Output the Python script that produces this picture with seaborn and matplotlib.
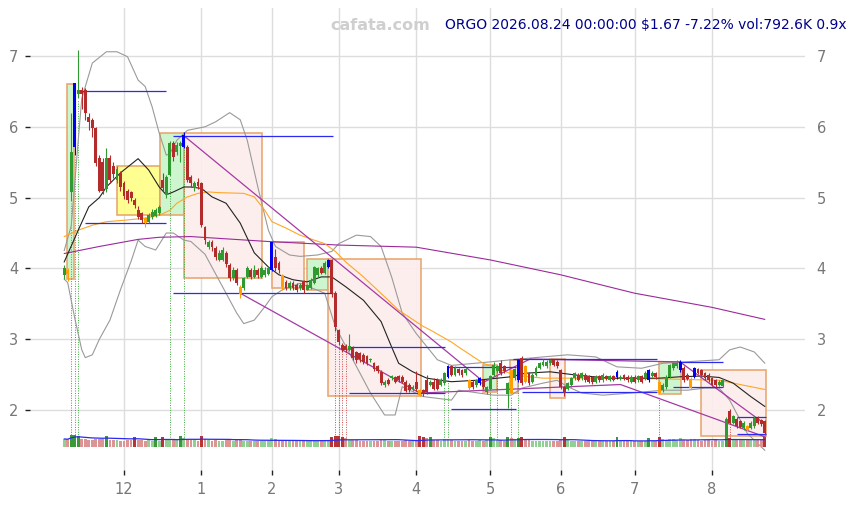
import numpy as np
import pandas as pd
import matplotlib
matplotlib.use("Agg")
import matplotlib.pyplot as plt
from matplotlib.patches import Rectangle
import seaborn as sns

# daily candles, ORGO, 2025-11-05 .. 2026-08-24 (200 sessions)
opens = [3.90, 3.98, 5.08, 5.71, 6.46, 6.52, 6.52, 6.14, 6.10, 5.98,
         5.56, 5.50, 5.12, 5.56, 5.45, 5.25, 5.35, 5.20, 5.10, 5.08,
         4.97, 4.83, 4.78, 4.71, 4.66, 4.72, 4.74, 4.78, 5.25, 5.04,
         5.32, 5.77, 5.64, 5.73, 5.71, 5.71, 5.29, 5.14, 5.22, 5.20,
         4.58, 4.30, 4.37, 4.29, 4.12, 4.12, 4.22, 4.05, 3.86, 3.98,
         3.74, 3.72, 3.88, 3.98, 3.88, 3.98, 3.88, 3.90, 3.92, 3.98,
         4.16, 4.08, 3.90, 3.81, 3.72, 3.80, 3.77, 3.72, 3.82, 3.70,
         3.72, 3.80, 3.90, 4.00, 3.94, 4.02, 4.12, 3.65, 3.13, 2.92,
         2.90, 2.85, 2.88, 2.82, 2.80, 2.78, 2.76, 2.70, 2.66, 2.62,
         2.54, 2.35, 2.43, 2.45, 2.46, 2.48, 2.47, 2.40, 2.36, 2.29,
         2.40, 2.28, 2.28, 2.42, 2.36, 2.40, 2.42, 2.36, 2.38, 2.47,
         2.62, 2.50, 2.58, 2.56, 2.52, 2.42, 2.40, 2.35, 2.38, 2.42,
         2.25, 2.30, 2.50, 2.55, 2.66, 2.62, 2.22, 2.56, 2.45, 2.42,
         2.73, 2.62, 2.52, 2.40, 2.50, 2.60, 2.64, 2.62, 2.66, 2.70,
         2.68, 2.56, 2.32, 2.30, 2.35, 2.45, 2.50, 2.45, 2.50, 2.48,
         2.46, 2.40, 2.48, 2.42, 2.48, 2.43, 2.48, 2.46, 2.44, 2.49,
         2.47, 2.40, 2.47, 2.42, 2.48, 2.45, 2.42, 2.48, 2.52, 2.40,
         2.28, 2.32, 2.47, 2.59, 2.62, 2.56, 2.59, 2.50, 2.44, 2.47,
         2.58, 2.56, 2.52, 2.50, 2.45, 2.42, 2.36, 2.34, 1.65, 1.99,
         1.82, 1.88, 1.84, 1.74, 1.77, 1.75, 1.77, 1.89, 1.86, 1.84]
closes = [4.00, 3.92, 5.64, 6.62, 6.52, 6.46, 6.20, 6.07, 5.98, 5.49,
          5.10, 5.10, 5.56, 5.25, 5.33, 5.40, 5.15, 5.02, 4.97, 5.00,
          4.90, 4.73, 4.68, 4.64, 4.75, 4.80, 4.82, 4.87, 5.14, 5.29,
          5.77, 5.57, 5.75, 5.77, 5.89, 5.25, 5.20, 5.20, 5.16, 4.61,
          4.40, 4.37, 4.30, 4.16, 4.22, 4.26, 4.06, 3.86, 3.98, 3.80,
          3.64, 3.86, 4.00, 3.88, 3.98, 3.90, 4.00, 3.98, 4.00, 4.37,
          4.00, 3.98, 3.74, 3.72, 3.80, 3.72, 3.70, 3.77, 3.70, 3.76,
          3.84, 4.02, 4.00, 3.94, 4.08, 4.12, 3.65, 3.17, 2.96, 2.85,
          2.85, 2.90, 2.73, 2.70, 2.72, 2.68, 2.66, 2.72, 2.58, 2.55,
          2.38, 2.40, 2.37, 2.48, 2.40, 2.42, 2.40, 2.27, 2.28, 2.33,
          2.29, 2.21, 2.22, 2.25, 2.40, 2.30, 2.30, 2.43, 2.52, 2.62,
          2.50, 2.60, 2.53, 2.50, 2.58, 2.31, 2.33, 2.42, 2.45, 2.33,
          2.32, 2.48, 2.63, 2.62, 2.53, 2.55, 2.38, 2.24, 2.58, 2.70,
          2.38, 2.40, 2.38, 2.50, 2.60, 2.66, 2.68, 2.68, 2.70, 2.64,
          2.62, 2.32, 2.24, 2.38, 2.45, 2.52, 2.43, 2.52, 2.43, 2.40,
          2.40, 2.47, 2.42, 2.50, 2.44, 2.48, 2.43, 2.54, 2.47, 2.44,
          2.42, 2.47, 2.40, 2.48, 2.40, 2.53, 2.56, 2.53, 2.46, 2.24,
          2.36, 2.47, 2.63, 2.66, 2.66, 2.68, 2.42, 2.44, 2.31, 2.59,
          2.53, 2.50, 2.45, 2.42, 2.36, 2.35, 2.40, 2.42, 1.87, 1.82,
          1.91, 1.77, 1.76, 1.82, 1.72, 1.82, 1.89, 1.82, 1.80, 1.67]
highs = [4.05, 4.00, 6.20, 6.62, 7.08, 6.56, 6.55, 6.20, 6.12, 6.00,
         5.60, 5.56, 5.70, 5.60, 5.50, 5.45, 5.38, 5.24, 5.12, 5.10,
         5.00, 4.88, 4.80, 4.73, 4.78, 4.84, 4.86, 4.90, 5.35, 5.32,
         5.80, 5.80, 5.78, 5.80, 5.92, 5.74, 5.32, 5.24, 5.28, 5.22,
         4.60, 4.40, 4.40, 4.32, 4.26, 4.30, 4.24, 4.07, 4.02, 4.00,
         3.76, 3.88, 4.04, 4.00, 4.05, 4.00, 4.04, 4.02, 4.03, 4.38,
         4.28, 4.10, 3.92, 3.84, 3.82, 3.82, 3.80, 3.80, 3.84, 3.78,
         3.86, 4.04, 4.02, 4.03, 4.10, 4.14, 4.14, 3.68, 3.15, 2.95,
         2.93, 3.08, 2.90, 2.84, 2.82, 2.80, 2.78, 2.74, 2.68, 2.64,
         2.56, 2.42, 2.45, 2.50, 2.48, 2.50, 2.49, 2.42, 2.38, 2.35,
         2.55, 2.30, 2.30, 2.50, 2.42, 2.45, 2.45, 2.45, 2.54, 2.64,
         2.64, 2.62, 2.60, 2.58, 2.60, 2.44, 2.42, 2.44, 2.47, 2.44,
         2.34, 2.50, 2.68, 2.64, 2.70, 2.64, 2.40, 2.58, 2.60, 2.72,
         2.77, 2.64, 2.54, 2.52, 2.62, 2.68, 2.72, 2.70, 2.72, 2.72,
         2.70, 2.58, 2.34, 2.40, 2.47, 2.54, 2.52, 2.54, 2.52, 2.50,
         2.48, 2.49, 2.50, 2.52, 2.50, 2.50, 2.50, 2.56, 2.49, 2.51,
         2.49, 2.49, 2.49, 2.50, 2.50, 2.55, 2.58, 2.55, 2.54, 2.42,
         2.38, 2.49, 2.65, 2.68, 2.70, 2.70, 2.62, 2.52, 2.46, 2.61,
         2.60, 2.58, 2.54, 2.52, 2.47, 2.44, 2.42, 2.44, 1.90, 2.02,
         1.93, 1.90, 1.86, 1.84, 1.79, 1.84, 1.92, 1.91, 1.88, 1.86]
lows = [3.85, 3.82, 4.95, 5.60, 6.40, 6.25, 6.10, 5.95, 5.85, 5.45,
        5.08, 5.05, 5.08, 5.20, 5.28, 5.20, 5.10, 4.98, 4.92, 4.95,
        4.85, 4.70, 4.64, 4.58, 4.64, 4.70, 4.72, 4.76, 5.10, 5.00,
        5.30, 5.52, 5.60, 5.50, 5.70, 5.22, 5.15, 5.10, 5.12, 4.58,
        4.35, 4.28, 4.25, 4.12, 4.10, 4.10, 4.02, 3.82, 3.84, 3.76,
        3.58, 3.70, 3.86, 3.85, 3.86, 3.87, 3.86, 3.88, 3.90, 3.96,
        3.96, 3.94, 3.70, 3.70, 3.70, 3.70, 3.66, 3.70, 3.65, 3.69,
        3.71, 3.78, 3.88, 3.92, 3.92, 4.00, 3.60, 3.12, 2.92, 2.82,
        2.82, 2.84, 2.70, 2.67, 2.68, 2.65, 2.63, 2.68, 2.55, 2.52,
        2.35, 2.33, 2.35, 2.43, 2.38, 2.40, 2.38, 2.25, 2.26, 2.27,
        2.27, 2.20, 2.20, 2.23, 2.34, 2.28, 2.28, 2.34, 2.36, 2.45,
        2.48, 2.48, 2.50, 2.47, 2.50, 2.28, 2.30, 2.33, 2.36, 2.30,
        2.23, 2.28, 2.48, 2.53, 2.50, 2.52, 2.03, 2.22, 2.43, 2.40,
        2.36, 2.38, 2.36, 2.38, 2.48, 2.58, 2.62, 2.60, 2.64, 2.62,
        2.60, 2.30, 2.20, 2.28, 2.33, 2.43, 2.41, 2.43, 2.40, 2.38,
        2.37, 2.38, 2.40, 2.40, 2.42, 2.41, 2.41, 2.44, 2.42, 2.42,
        2.40, 2.38, 2.38, 2.40, 2.38, 2.43, 2.40, 2.46, 2.44, 2.22,
        2.26, 2.30, 2.45, 2.57, 2.60, 2.54, 2.40, 2.42, 2.29, 2.45,
        2.51, 2.48, 2.43, 2.40, 2.34, 2.33, 2.34, 2.32, 1.50, 1.80,
        1.80, 1.75, 1.74, 1.72, 1.70, 1.73, 1.75, 1.80, 1.78, 1.65]
# candle colour class: g up, r down, b breakout, o flagged
kinds = list("gogbgrrrrr" "rrgrrgrrrr" "rrroggggrg" "grggbrrgrr"
             "rgrrggrrgr" "oggrgrgggb" "rrorgrrgrg" "gggrgbrrrr"
             "rgrrrrrgrr" "rgrgrrrrrg" "rorrgrrggb" "rgrrgorgbr"
             "ggggrrgogb" "rorggggggr" "rrrgggrgrr" "rgrgrgrbgr"
             "rgrgrgbgro" "gggggbrrob" "rrrrrrgggr" "grrgoggrrr")
volumes_k = [620, 580, 900, 950, 880, 640, 600, 560, 540, 620,
             600, 580, 820, 560, 520, 500, 490, 480, 540, 520,
             800, 560, 520, 490, 500, 480, 780, 460, 800, 520,
             640, 580, 540, 820, 660, 620, 520, 500, 480, 840,
             640, 500, 490, 520, 480, 460, 520, 560, 490, 540,
             600, 490, 480, 460, 450, 440, 460, 450, 440, 660,
             600, 520, 560, 490, 460, 450, 480, 440, 490, 460,
             450, 490, 480, 460, 480, 520, 780, 860, 820, 760,
             660, 560, 520, 500, 490, 480, 460, 450, 490, 480,
             600, 500, 480, 460, 450, 480, 460, 520, 490, 460,
             500, 840, 800, 660, 780, 520, 500, 480, 580, 640,
             520, 490, 480, 460, 450, 520, 490, 480, 500, 490,
             500, 780, 660, 520, 500, 490, 800, 660, 640, 720,
             780, 580, 520, 490, 480, 490, 480, 460, 450, 440,
             460, 560, 760, 500, 480, 460, 480, 450, 460, 440,
             450, 440, 440, 460, 450, 440, 460, 740, 480, 460,
             440, 450, 460, 450, 440, 460, 720, 480, 460, 780,
             600, 520, 640, 580, 520, 660, 560, 520, 600, 640,
             520, 490, 500, 520, 490, 500, 480, 490, 900, 720,
             640, 580, 560, 520, 500, 520, 560, 540, 560, 793]

holidays = ["2025-11-27", "2025-12-25", "2026-01-01", "2026-01-19", "2026-02-16",
            "2026-04-03", "2026-05-25", "2026-06-19", "2026-07-03"]

# overlay lines (session index, price)
sma20_idx = [0, 4, 7, 10, 12, 16, 21, 24, 27, 29, 31, 34, 36, 39, 42, 46, 50, 54, 58, 61,
             65, 69, 73, 76, 80, 85, 90, 93, 95, 99, 103, 107, 110, 117, 127, 131, 138, 146,
             155, 164, 169, 175, 181, 186, 190, 195, 199]
sma20_val = [4.09, 4.54, 4.87, 5.00, 5.15, 5.35, 5.55, 5.39, 5.15, 5.04, 5.08, 5.15, 5.15, 5.13,
             5.01, 4.92, 4.64, 4.22, 4.02, 3.91, 3.84, 3.81, 3.88, 3.88, 3.74, 3.55, 3.25, 2.89,
             2.66, 2.54, 2.45, 2.42, 2.40, 2.42, 2.47, 2.52, 2.54, 2.49, 2.45, 2.45, 2.45, 2.47,
             2.48, 2.46, 2.38, 2.19, 2.05]
sma50_idx = [0, 4, 8, 12, 17, 23, 27, 30, 32, 35, 38, 41, 44, 51, 54, 57, 59, 63, 67, 71,
             74, 77, 80, 85, 91, 95, 102, 104, 110, 112, 119, 123, 128, 136, 150, 170, 186, 199]
sma50_val = [4.45, 4.54, 4.61, 4.66, 4.68, 4.71, 4.75, 4.82, 4.92, 5.01, 5.06, 5.08, 5.07, 5.06,
             5.01, 4.82, 4.66, 4.57, 4.47, 4.40, 4.35, 4.24, 4.09, 3.88, 3.60, 3.41, 3.18, 3.13,
             2.96, 2.89, 2.66, 2.59, 2.49, 2.45, 2.45, 2.44, 2.42, 2.29]
sma200_idx = [0, 10, 21, 27, 36, 39, 58, 78, 100, 121, 141, 162, 184, 199]
sma200_val = [4.21, 4.31, 4.41, 4.44, 4.45, 4.44, 4.38, 4.33, 4.30, 4.12, 3.91, 3.65, 3.45, 3.28]
bb_up_idx = [0, 2, 3, 4, 5, 8, 12, 15, 18, 21, 23, 25, 27, 29, 30, 32, 35, 40, 43, 47,
             50, 52, 55, 58, 60, 64, 67, 72, 76, 78, 83, 87, 90, 93, 96, 100, 106, 110, 121, 127,
             136, 143, 151, 157, 164, 170, 186, 189, 192, 196, 199]
bb_up_val = [4.25, 4.60, 5.20, 5.81, 6.40, 6.90, 7.06, 7.06, 6.99, 6.66, 6.57, 6.28, 5.91, 5.60,
             5.62, 5.81, 5.95, 6.00, 6.07, 6.20, 6.10, 5.81, 5.15, 4.54, 4.31, 4.19, 4.17, 4.19,
             4.24, 4.35, 4.47, 4.45, 4.31, 3.88, 3.37, 3.08, 2.71, 2.63, 2.68, 2.71, 2.75, 2.78,
             2.75, 2.61, 2.59, 2.66, 2.71, 2.85, 2.89, 2.82, 2.66]
bb_lo_idx = [0, 1, 3, 5, 6, 8, 10, 13, 16, 19, 21, 23, 26, 29, 31, 34, 36, 40, 45, 49,
             51, 54, 57, 59, 62, 67, 74, 77, 82, 87, 91, 94, 96, 102, 110, 112, 122, 127, 130, 136,
             140, 143, 147, 153, 161, 170, 177, 182, 186, 189, 194, 199]
bb_lo_val = [3.85, 3.80, 3.30, 2.85, 2.74, 2.78, 3.00, 3.27, 3.70, 4.10, 4.40, 4.31, 4.26, 4.50,
             4.50, 4.40, 4.38, 4.20, 3.74, 3.37, 3.22, 3.27, 3.46, 3.60, 3.70, 3.79, 3.65, 3.18,
             2.71, 2.24, 1.93, 1.93, 2.33, 2.19, 2.14, 2.28, 2.21, 2.21, 2.31, 2.38, 2.42, 2.33,
             2.24, 2.21, 2.24, 2.28, 2.28, 2.31, 2.31, 2.14, 1.67, 1.43]

# consolidation boxes
box_start = [0.8, 15.1, 27.2, 34.1, 59.1, 69.0, 75.0, 118.9, 126.6, 138.0, 169.0, 181.0]
box_end = [2.8, 27.2, 34.1, 56.1, 68.0, 75.0, 101.3, 123.0, 129.0, 142.3, 175.1, 199.3]
box_low = [3.85, 4.75, 4.75, 3.86, 3.72, 3.70, 2.20, 2.26, 2.24, 2.17, 2.22, 1.64]
box_high = [6.60, 5.45, 5.91, 5.91, 4.38, 4.13, 4.13, 2.64, 2.70, 2.72, 2.68, 2.57]
box_kind = ["up", "flat", "up", "down", "down", "up", "down", "up", "down", "down", "up", "down"]

# support / resistance levels
lvl_start = [4.0, 5.9, 31.0, 31.0, 81.0, 81.0, 109.9, 109.0, 127.5, 130.0, 175.0, 173.0, 191.0, 191.0]
lvl_end = [29.0, 29.0, 76.3, 76.3, 108.2, 108.2, 128.3, 128.3, 168.4, 168.4, 187.2, 187.2, 199.3, 199.3]
lvl_price = [6.50, 4.64, 5.87, 3.65, 2.89, 2.24, 2.02, 2.61, 2.72, 2.25, 2.68, 2.33, 1.90, 1.66]

# trend lines
trend_x0 = [34.1, 50.0, 118.6, 132.3, 174.9, 101.0, 158.0]
trend_y0 = [5.87, 3.65, 2.38, 2.72, 2.68, 2.24, 2.36]
trend_x1 = [118.6, 101.0, 132.3, 174.9, 199.1, 158.0, 199.1]
trend_y1 = [2.42, 2.24, 2.72, 2.68, 1.80, 2.36, 1.62]

# signal days (dotted markers)
sig_up = [2, 3, 4, 30, 34, 108, 109, 121, 123, 129]
sig_down = [77, 78, 79, 80, 127, 169, 189]

headline = "ORGO 2026.08.24 00:00:00 $1.67 -7.22% vol:792.6K 0.9x"

# ---------------------------------------------------------------
sns.set_theme(style="white")
plt.rcParams["font.family"] = ["DejaVu Sans"]

days = pd.bdate_range("2025-11-05", "2026-08-24", freq="C", holidays=holidays)
n = len(opens)
idx = np.arange(n)
o = np.array(opens)
c = np.array(closes)
h = np.array(highs)
l = np.array(lows)

fig = plt.figure(figsize=(8.57, 5.05), dpi=100)
ax = fig.add_axes([30 / 857, 35 / 505, 775 / 857, 462 / 505])
ax.set_xlim(-9.7, 210.4)
ax.set_ylim(1.153, 7.678)
for sp in ax.spines.values():
    sp.set_visible(False)
ax.grid(True, color="#dddddd", lw=1)
ax.set_axisbelow(True)

# boxes
face = {"up": "#c9f5c9", "down": "#fdeded", "flat": "#ffff85"}
for x0, x1, lo, hi, k in zip(box_start, box_end, box_low, box_high, box_kind):
    ax.add_patch(Rectangle((x0, lo), x1 - x0, hi - lo, facecolor=face[k],
                           edgecolor="#e6a064", lw=1.2, alpha=0.9, zorder=1.2))

# overlay lines via seaborn
lines = [(bb_up_idx, bb_up_val, "#9a9a9a"), (bb_lo_idx, bb_lo_val, "#9a9a9a"),
         (sma200_idx, sma200_val, "#9b2a9b"), (sma50_idx, sma50_val, "#ffa726"),
         (sma20_idx, sma20_val, "#222222")]
for xs, ys, col in lines:
    df = pd.DataFrame({"i": xs, "v": ys})
    sns.lineplot(data=df, x="i", y="v", color=col, lw=0.8, ax=ax,
                 estimator=None, sort=False, zorder=2)

for x0, y0, x1, y1 in zip(trend_x0, trend_y0, trend_x1, trend_y1):
    ax.plot([x0, x1], [y0, y1], color="#a43aa4", lw=0.9, zorder=2.2)

ax.hlines(lvl_price, lvl_start, lvl_end, colors="#2a2af0", lw=0.9, zorder=2.4)

# signal markers
ax.vlines(sig_up, 1.55, l[sig_up] - 0.02, colors="#3aa83a", linestyles=(0, (1, 1.5)), lw=0.7, zorder=1.8)
ax.vlines(sig_down, 1.55, l[sig_down] - 0.02, colors="#cc4a4a", linestyles=(0, (1, 1.5)), lw=0.7, zorder=1.8)

# candles
ccol = {"g": "#2f9a2f", "r": "#b32b2b", "b": "#0000f0", "o": "#ffa000"}
cols = [ccol[k] for k in kinds[:n]]
ax.vlines(idx, l, h, colors=cols, lw=0.8, zorder=3)
body_lo = np.minimum(o, c)
body_h = np.maximum(np.abs(c - o), 0.02)
ax.bar(idx, body_h, bottom=body_lo, width=0.82, color=cols, lw=0, zorder=3.1)

# volume strip
axv = ax.twinx()
axv.set_ylim(-1770, 33770)
axv.axis("off")
vol = np.array(volumes_k)
up = c >= o
heavy = vol >= 700
vcol = np.where(up, np.where(heavy, "#3a9a3a", "#92cf92"),
                np.where(heavy, "#b93535", "#dc9494"))
axv.bar(idx, vol, width=0.8, color=vcol, lw=0)
vma = pd.Series(vol).rolling(20, min_periods=1).mean()
sns.lineplot(x=idx, y=vma.values, ax=axv, color="#2a2af0", lw=0.9)
axv.set_xlim(ax.get_xlim())

# ticks
mstart = [i for i in range(1, n) if days[i].month != days[i - 1].month]
ax.set_xticks(mstart)
ax.set_xticklabels([str(days[i].month) for i in mstart])
ax.set_yticks([2, 3, 4, 5, 6, 7])
ax.set_xlabel("")
ax.set_ylabel("")
ax.tick_params(axis="both", labelsize=10.5, labelcolor="#777777", color="#222222",
               length=3.5, width=1, pad=4)
ax.tick_params(axis="y", left=True, right=False, labelleft=True, labelright=True, pad=5)
ax.tick_params(axis="x", bottom=True, pad=5)

fig.text(380 / 857, 1 - 25 / 505, "cafata.com", ha="center", va="center",
         color="#cfcfcf", fontsize=11.5, fontweight="bold")
fig.text(445 / 857, 1 - 25 / 505, headline, ha="left", va="center",
         color="#00008b", fontsize=10)

fig.savefig("out.png", dpi=100)
